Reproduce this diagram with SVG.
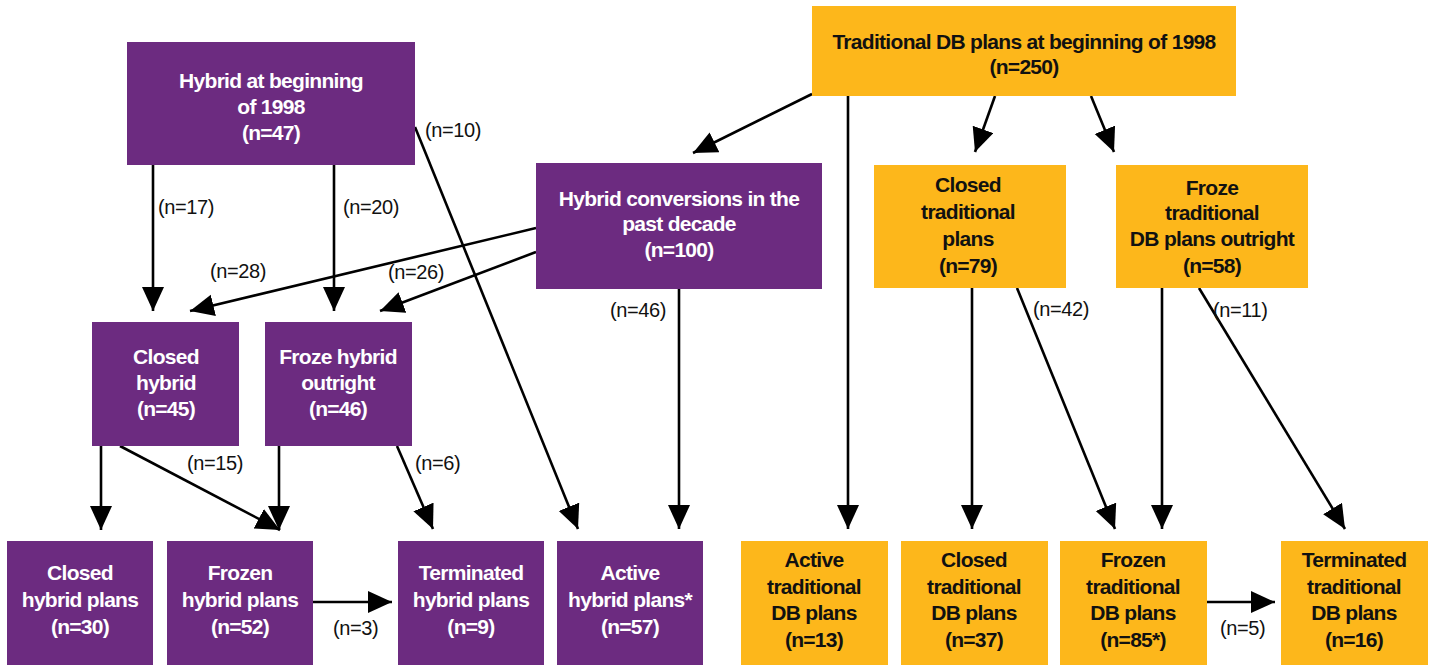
<svg xmlns="http://www.w3.org/2000/svg" width="1432" height="665" viewBox="0 0 1432 665">
<style>
.p{fill:#6C2B80}
.o{fill:#FDB71B}
.tw{font-family:"Liberation Sans",Arial,sans-serif;font-weight:bold;font-size:21px;fill:#fff;text-anchor:middle;letter-spacing:-0.7px}
.tb{font-family:"Liberation Sans",Arial,sans-serif;font-weight:bold;font-size:21px;fill:#111;text-anchor:middle;letter-spacing:-0.7px}
.lb{font-family:"Liberation Sans",Arial,sans-serif;font-size:20px;fill:#111;letter-spacing:-0.4px}
.c{stroke:#000;stroke-width:2.6;fill:none;marker-end:url(#ah)}
</style>
<defs>
<marker id="ah" markerUnits="userSpaceOnUse" markerWidth="26" markerHeight="24" refX="24" refY="11" orient="auto">
<path d="M0,0 L24,11 L0,22 z" fill="#000"/>
</marker>
</defs>
<rect width="1432" height="665" fill="#fff"/>
<g id="connectors">
<path class="c" d="M812,94 L693,153"/>
<path class="c" d="M848,96 L848,529"/>
<path class="c" d="M995,96 L975,152"/>
<path class="c" d="M1091,96 L1114,152"/>
<path class="c" d="M153,165 L153,311"/>
<path class="c" d="M334,165 L334,311"/>
<path class="c" d="M415,127 L578,529"/>
<path class="c" d="M536,228 L190,311"/>
<path class="c" d="M536,252 L380,311"/>
<path class="c" d="M679,289 L679,529"/>
<path class="c" d="M101,446 L101,530"/>
<path class="c" d="M120,446 L280,530"/>
<path class="c" d="M279,446 L279,530"/>
<path class="c" d="M397,446 L433,529"/>
<path class="c" d="M313,602 L392,602"/>
<path class="c" d="M972,288 L972,529"/>
<path class="c" d="M1017,288 L1115,529"/>
<path class="c" d="M1162,288 L1162,529"/>
<path class="c" d="M1199,288 L1345,529"/>
<path class="c" d="M1207,602 L1275,602"/>
<text class="lb" x="425" y="137">(n=10)</text>
<text class="lb" x="158" y="214">(n=17)</text>
<text class="lb" x="343" y="214">(n=20)</text>
<text class="lb" x="210" y="278">(n=28)</text>
<text class="lb" x="388" y="279">(n=26)</text>
<text class="lb" x="610" y="317">(n=46)</text>
<text class="lb" x="187" y="470">(n=15)</text>
<text class="lb" x="415" y="470">(n=6)</text>
<text class="lb" x="333" y="635">(n=3)</text>
<text class="lb" x="1033" y="316">(n=42)</text>
<text class="lb" x="1213" y="317">(n=11)</text>
<text class="lb" x="1220" y="635">(n=5)</text>
</g>
<g id="hybrid1998">
<rect class="p" x="127" y="42" width="288" height="123"/>
<text class="tw" x="271" y="88">Hybrid at beginning</text>
<text class="tw" x="271" y="114">of 1998</text>
<text class="tw" x="271" y="140">(n=47)</text>
</g>
<g id="hybridconv">
<rect class="p" x="536" y="163" width="286" height="126"/>
<text class="tw" x="679" y="206">Hybrid conversions in the</text>
<text class="tw" x="679" y="231">past decade</text>
<text class="tw" x="679" y="257">(n=100)</text>
</g>
<g id="trad1998">
<rect class="o" x="812" y="6" width="424" height="90"/>
<text class="tb" x="1024" y="49">Traditional DB plans at beginning of 1998</text>
<text class="tb" x="1024" y="74">(n=250)</text>
</g>
<g id="closedtrad">
<rect class="o" x="874" y="165" width="192" height="123"/>
<text class="tb" x="968" y="192">Closed</text>
<text class="tb" x="968" y="219">traditional</text>
<text class="tb" x="968" y="246">plans</text>
<text class="tb" x="968" y="273">(n=79)</text>
</g>
<g id="frozetrad">
<rect class="o" x="1116" y="165" width="192" height="123"/>
<text class="tb" x="1212" y="195">Froze</text>
<text class="tb" x="1212" y="220">traditional</text>
<text class="tb" x="1212" y="246">DB plans outright</text>
<text class="tb" x="1212" y="273">(n=58)</text>
</g>
<g id="closedhybrid">
<rect class="p" x="92" y="322" width="147" height="124"/>
<text class="tw" x="166" y="364">Closed</text>
<text class="tw" x="166" y="390">hybrid</text>
<text class="tw" x="166" y="416">(n=45)</text>
</g>
<g id="frozehybrid">
<rect class="p" x="265" y="322" width="147" height="124"/>
<text class="tw" x="338" y="364">Froze hybrid</text>
<text class="tw" x="338" y="390">outright</text>
<text class="tw" x="338" y="416">(n=46)</text>
</g>
<g id="closedhybridplans">
<rect class="p" x="7" y="541" width="146" height="124"/>
<text class="tw" x="80" y="580">Closed</text>
<text class="tw" x="80" y="607">hybrid plans</text>
<text class="tw" x="80" y="634">(n=30)</text>
</g>
<g id="frozenhybridplans">
<rect class="p" x="167" y="541" width="146" height="124"/>
<text class="tw" x="240" y="580">Frozen</text>
<text class="tw" x="240" y="607">hybrid plans</text>
<text class="tw" x="240" y="634">(n=52)</text>
</g>
<g id="termhybridplans">
<rect class="p" x="398" y="541" width="146" height="124"/>
<text class="tw" x="471" y="580">Terminated</text>
<text class="tw" x="471" y="607">hybrid plans</text>
<text class="tw" x="471" y="634">(n=9)</text>
</g>
<g id="activehybridplans">
<rect class="p" x="557" y="541" width="146" height="124"/>
<text class="tw" x="630" y="580">Active</text>
<text class="tw" x="630" y="607">hybrid plans*</text>
<text class="tw" x="630" y="634">(n=57)</text>
</g>
<g id="activetrad">
<rect class="o" x="741" y="541" width="147" height="124"/>
<text class="tb" x="814" y="567">Active</text>
<text class="tb" x="814" y="594">traditional</text>
<text class="tb" x="814" y="620">DB plans</text>
<text class="tb" x="814" y="647">(n=13)</text>
</g>
<g id="closedtradplans">
<rect class="o" x="901" y="541" width="147" height="124"/>
<text class="tb" x="974" y="567">Closed</text>
<text class="tb" x="974" y="594">traditional</text>
<text class="tb" x="974" y="620">DB plans</text>
<text class="tb" x="974" y="647">(n=37)</text>
</g>
<g id="frozentradplans">
<rect class="o" x="1060" y="541" width="147" height="124"/>
<text class="tb" x="1133" y="567">Frozen</text>
<text class="tb" x="1133" y="594">traditional</text>
<text class="tb" x="1133" y="620">DB plans</text>
<text class="tb" x="1133" y="647">(n=85*)</text>
</g>
<g id="termtradplans">
<rect class="o" x="1281" y="541" width="147" height="124"/>
<text class="tb" x="1354" y="567">Terminated</text>
<text class="tb" x="1354" y="594">traditional</text>
<text class="tb" x="1354" y="620">DB plans</text>
<text class="tb" x="1354" y="647">(n=16)</text>
</g>
</svg>
